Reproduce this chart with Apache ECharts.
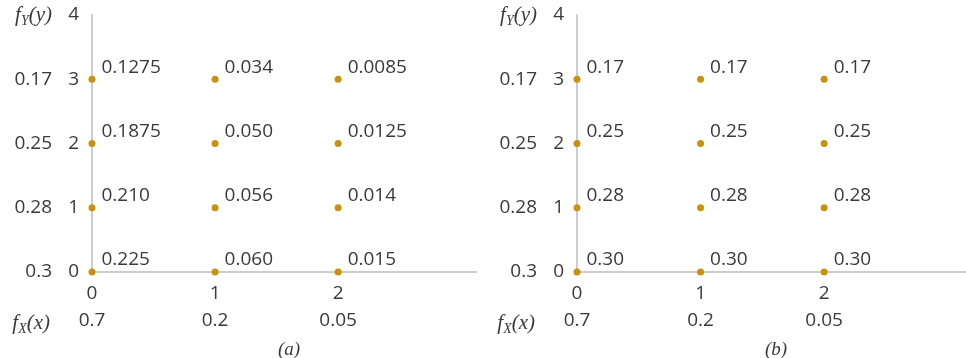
<!DOCTYPE html>
<html>
<head>
<meta charset="utf-8">
<script src="https://cdn.jsdelivr.net/npm/echarts@6/dist/echarts.min.js"></script>
<style>html,body{margin:0;padding:0;background:#fff}#c{width:966px;height:358px}</style>
</head>
<body>
<div id="c"></div>
<script>
// ---- data ----
const xValues = [0, 1, 2];
const yValues = [0, 1, 2, 3];
const fXLabels = ["0.7", "0.2", "0.05"];
const fYLabels = ["0.3", "0.28", "0.25", "0.17"];
// joint probabilities, rows = y (0..3), columns = x (0..2)
const jointA = [
  ["0.225", "0.060", "0.015"],
  ["0.210", "0.056", "0.014"],
  ["0.1875", "0.050", "0.0125"],
  ["0.1275", "0.034", "0.0085"]
];
const jointB = [
  ["0.30", "0.30", "0.30"],
  ["0.28", "0.28", "0.28"],
  ["0.25", "0.25", "0.25"],
  ["0.17", "0.17", "0.17"]
];
const panelTitles = ["(a)", "(b)"];

// ---- styles ----
const FONT = "'Open Sans', sans-serif";
const SERIF = "'Liberation Serif', 'DejaVu Serif', serif";
const TXT = "#3a3a3a";
const DOT = "#C8920E";
const FS = 19;

function pts(tbl) {
  const out = [];
  yValues.forEach((y, r) => xValues.forEach((x, c) => out.push([x, y, tbl[r][c]])));
  return out;
}

const grids = [
  { left: 92, top: 15, width: 384, height: 257, xmax: 3.12 },
  { left: 577, top: 15, width: 388, height: 257, xmax: 3.14 }
];

const richF = {
  f: { fontFamily: SERIF, fontStyle: 'italic', fontSize: 21, color: TXT },
  s: { fontFamily: SERIF, fontStyle: 'italic', fontSize: 14, color: TXT, padding: [12, 0, 0, 0] }
};

const option = {
  animation: false,
  backgroundColor: '#fff',
  title: grids.map((g, i) => ({
    text: panelTitles[i],
    left: g.left + g.width / 2,
    top: 335,
    textAlign: 'center',
    textStyle: { fontFamily: SERIF, fontStyle: 'italic', fontWeight: 'normal', fontSize: 19, color: TXT }
  })),
  grid: grids.map(g => ({ left: g.left, top: g.top, width: g.width, height: g.height, outerBoundsMode: 'none', containLabel: false })),
  xAxis: [],
  yAxis: [],
  series: []
};

grids.forEach((g, i) => {
  option.xAxis.push({
    type: 'value', gridIndex: i, min: 0, max: g.xmax, interval: 1,
    axisLine: { show: true, lineStyle: { color: '#cccccc', width: 2 } },
    axisTick: { show: false }, splitLine: { show: false },
    axisLabel: {
      margin: 12, fontFamily: FONT, fontSize: FS, color: TXT,
      showMaxLabel: false,
      formatter: v => (v <= 2 && Number.isInteger(v)) ? String(v) : ''
    }
  });
  option.xAxis.push({
    type: 'value', gridIndex: i, min: 0, max: g.xmax, interval: 1, position: 'bottom', offset: 28,
    axisLine: { show: false }, axisTick: { show: false }, splitLine: { show: false },
    name: '{f|f}{s|X}{f|(x)}', nameLocation: 'start', nameGap: 42,
    nameTextStyle: { rich: richF, verticalAlign: 'top', padding: [38, 0, 0, 0] },
    axisLabel: {
      margin: 11, fontFamily: FONT, fontSize: FS, color: TXT, showMaxLabel: false,
      formatter: v => (Number.isInteger(v) && v <= 2) ? fXLabels[v] : ''
    }
  });
  option.yAxis.push({
    type: 'value', gridIndex: i, min: 0, max: 4, interval: 1,
    axisLine: { show: true, lineStyle: { color: '#cccccc', width: 2 } },
    axisTick: { show: false }, splitLine: { show: false },
    axisLabel: { margin: 13, fontFamily: FONT, fontSize: FS, color: TXT }
  });
  option.yAxis.push({
    type: 'value', gridIndex: i, min: 0, max: 4, interval: 1, position: 'left', offset: 27,
    axisLine: { show: false }, axisTick: { show: false }, splitLine: { show: false },
    axisLabel: {
      margin: 13, fontFamily: FONT, fontSize: FS, color: TXT, rich: richF,
      formatter: v => v === 4 ? '{f|f}{s|Y}{f|(y)}' : fYLabels[v]
    }
  });
  option.series.push({
    type: 'scatter', xAxisIndex: i * 2, yAxisIndex: i * 2,
    data: pts(i === 0 ? jointA : jointB),
    symbolSize: 7, itemStyle: { color: DOT, opacity: 1 },
    label: {
      show: true, position: 'right', distance: 6, offset: [0, -12],
      fontFamily: FONT, fontSize: FS, color: TXT,
      formatter: p => p.value[2]
    }
  });
});

const chart = echarts.init(document.getElementById('c'));
chart.setOption(option);
</script>
</body>
</html>
